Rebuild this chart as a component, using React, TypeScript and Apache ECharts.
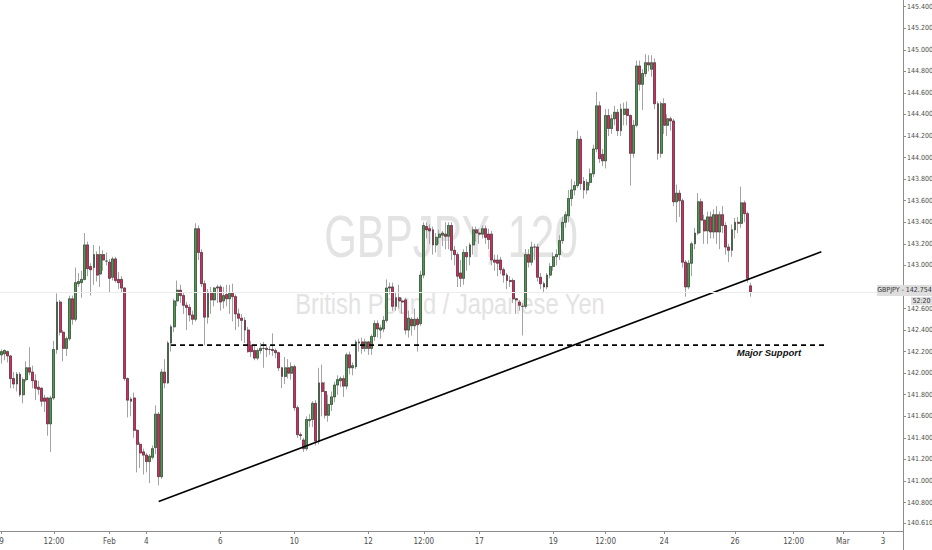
import React, { useEffect, useRef } from "react";
import * as echarts from "echarts";

// Each candle: [open, close, low, high] — GBPJPY 2-hour candles
const candlesLateJan: number[][] = [
  [142.17,142.20,142.09,142.22],[142.18,142.21,142.12,142.22],[142.20,142.16,142.10,142.21],[142.16,141.95,141.86,142.17],
  [141.95,141.90,141.86,142.01],[141.90,141.99,141.83,142.01],[141.99,141.80,141.78,142.01],[141.80,141.94,141.72,141.96],
  [141.94,142.05,141.92,142.11],[142.05,142.01,141.98,142.24],[142.01,141.93,141.86,142.07],[141.93,141.86,141.75,141.99],
  [141.87,141.85,141.80,141.93],[141.86,141.74,141.69,141.87],[141.77,141.74,141.64,141.80],[141.77,141.53,141.42,141.78],
  [141.53,141.77,141.27,141.79],[141.77,142.22,141.75,142.30],[142.22,142.66,142.18,142.74],[142.66,142.38,142.35,142.68],
  [142.38,142.23,142.11,142.40],[142.23,142.32,142.16,142.34],[142.32,142.69,142.30,142.72],[142.69,142.50,142.45,142.72],
  [142.50,142.84,142.48,142.98],[142.83,142.85,142.80,142.93],[142.84,142.87,142.70,142.95],[142.87,143.19,142.86,143.30],
  [143.19,142.97,142.90,143.22],[142.99,142.96,142.72,143.02],[142.98,143.10,142.82,143.19],[143.10,142.91,142.85,143.13],
  [142.92,143.10,142.80,143.18],[143.10,143.05,142.95,143.14],[143.04,143.04,143.00,143.12],[143.03,142.88,142.75,143.06],
  [142.89,143.06,142.86,143.08],[143.06,142.86,142.84,143.08],[142.87,142.84,142.78,142.94],[142.87,142.79,142.75,142.90],
  [142.79,141.95,141.93,142.80],[141.95,141.75,141.59,141.96],[141.76,141.74,141.60,141.78],[141.77,141.47,141.40,141.82],
  [141.47,141.34,141.08,141.48],[141.34,141.26,141.12,141.36],[141.27,141.24,141.06,141.30],[141.24,141.18,141.08,141.26],
  [141.18,141.23,140.98,141.25],[141.22,141.30,141.20,141.33],[141.31,141.62,141.25,141.70],[141.62,141.04,140.96,141.64],
  [141.04,142.01,141.02,142.04],[142.01,141.91,141.86,142.13],[141.91,142.28,141.90,142.30],[142.28,142.43,142.20,142.45],
  [142.43,142.67,142.38,142.69],[142.67,142.77,142.62,142.86],[142.77,142.72,142.65,142.82],[142.72,142.63,142.55,142.75],
  [142.63,142.61,142.40,142.66],[142.61,142.54,142.48,142.64],
];

const candlesEarlyFeb: number[][] = [
  [142.54,142.50,142.45,142.58],[142.50,143.34,142.48,143.39],[143.34,143.12,143.05,143.37],[143.12,142.83,142.80,143.15],
  [142.83,142.52,142.26,142.86],[142.52,142.75,142.46,142.78],[142.75,142.68,142.55,142.80],[142.68,142.79,142.62,142.80],
  [142.79,142.80,142.65,142.82],[142.80,142.66,142.58,142.82],[142.67,142.72,142.60,142.80],[142.73,142.69,142.62,142.82],
  [142.69,142.74,142.55,142.82],[142.74,142.71,142.48,142.83],[142.71,142.55,142.40,142.73],[142.55,142.51,142.43,142.60],
  [142.51,142.49,142.30,142.55],[142.49,142.40,142.28,142.52],[142.40,142.20,142.19,142.43],[142.26,142.20,142.15,142.30],
  [142.21,142.14,142.12,142.25],[142.14,142.21,142.12,142.23],[142.21,142.23,142.18,142.28],[142.23,142.23,142.05,142.29],
  [142.23,142.22,142.15,142.27],[142.22,142.22,142.17,142.25],[142.22,142.21,142.16,142.37],[142.21,142.19,142.14,142.23],
  [142.19,142.05,142.02,142.20],[142.05,141.97,141.86,142.06],[141.97,142.05,141.90,142.15],[142.05,142.00,141.95,142.13],
  [142.00,142.06,141.94,142.10],[142.06,141.68,141.65,142.08],[141.68,141.43,141.40,141.70],[141.43,141.42,141.38,141.45],
  [141.38,141.30,141.27,141.40],[141.30,141.57,141.28,141.60],[141.56,141.57,141.50,141.62],[141.57,141.72,141.50,141.74],
  [141.72,141.37,141.33,141.75],[141.37,141.91,141.34,142.05],[141.91,141.83,141.60,142.08],[141.83,141.61,141.58,141.92],
  [141.61,141.71,141.55,141.80],[141.71,141.78,141.65,141.83],[141.78,141.89,141.73,141.92],[141.89,141.94,141.80,141.98],
  [141.93,141.95,141.87,141.97],[141.95,141.88,141.78,141.98],[141.88,142.17,141.85,142.19],[142.17,142.05,141.99,142.20],
  [142.05,142.07,141.98,142.10],[142.06,142.29,142.04,142.31],[142.28,142.29,142.20,142.32],[142.29,142.23,142.18,142.33],
  [142.23,142.29,142.20,142.32],[142.29,142.23,142.17,142.30],[142.23,142.34,142.17,142.36],[142.34,142.46,142.30,142.49],
  [142.46,142.41,142.33,142.49],[142.40,142.42,142.32,142.45],[142.41,142.49,142.38,142.53],[142.49,142.79,142.47,142.87],
  [142.79,142.80,142.73,142.84],
];

const candlesMidFeb: number[][] = [
  [142.80,142.62,142.58,142.84],[142.62,142.70,142.58,142.75],[142.70,142.67,142.60,142.82],[142.67,142.66,142.55,142.70],
  [142.68,142.40,142.36,142.70],[142.40,142.51,142.33,142.58],[142.50,142.44,142.35,142.52],[142.44,142.50,142.40,142.60],
  [142.50,142.45,142.20,142.52],[142.46,142.91,142.44,142.95],[142.91,143.37,142.88,143.40],[143.36,143.33,143.25,143.40],
  [143.34,143.32,143.20,143.38],[143.33,143.19,143.10,143.36],[143.19,143.26,143.12,143.30],[143.26,143.29,143.20,143.33],
  [143.28,143.30,143.18,143.32],[143.29,143.27,143.15,143.40],[143.27,143.37,143.15,143.40],[143.37,143.14,143.05,143.40],
  [143.14,143.10,143.00,143.18],[143.10,142.90,142.80,143.12],[142.93,142.88,142.80,143.05],[142.88,143.12,142.82,143.15],
  [143.12,143.08,142.95,143.18],[143.08,143.19,143.00,143.21],[143.19,143.33,143.10,143.36],[143.33,143.30,143.22,143.36],
  [143.30,143.29,143.20,143.34],[143.29,143.34,143.25,143.37],[143.34,143.26,143.20,143.37],[143.29,143.24,143.15,143.34],
  [143.29,143.05,143.00,143.32],[143.05,143.03,142.95,143.10],[143.05,143.02,142.90,143.10],[143.05,142.96,142.92,143.08],
  [142.96,142.91,142.84,142.98],[142.91,142.86,142.78,142.93],[142.86,142.85,142.80,142.90],[142.86,142.69,142.65,142.88],
  [142.69,142.68,142.55,142.70],[142.66,142.63,142.58,142.68],[142.62,142.62,142.35,142.65],[142.62,143.10,142.60,143.15],
  [143.10,143.03,142.98,143.15],[143.03,143.17,143.00,143.22],[143.17,143.17,143.05,143.20],[143.17,142.89,142.85,143.20],
  [142.89,142.83,142.78,142.93],[142.83,142.80,142.75,142.85],[142.80,142.91,142.78,142.93],[142.91,142.99,142.88,143.02],
  [142.99,143.08,142.95,143.12],[143.08,143.10,143.00,143.15],[143.10,143.23,143.05,143.28],[143.23,143.40,143.20,143.45],
  [143.40,143.47,143.35,143.50],[143.46,143.62,143.40,143.70],[143.62,143.70,143.55,143.80],
];

const candlesLateFeb: number[][] = [
  [143.70,143.74,143.65,143.78],[143.74,144.17,143.72,144.25],[144.17,143.76,143.70,144.20],[143.78,143.70,143.62,143.82],
  [143.70,143.77,143.66,143.80],[143.77,143.85,143.74,143.90],[143.85,144.08,143.82,144.12],[144.08,144.48,144.05,144.61],
  [144.48,143.99,143.95,144.52],[144.03,143.97,143.92,144.08],[143.97,144.39,143.90,144.45],[144.39,144.27,144.20,144.45],
  [144.27,144.36,144.22,144.40],[144.36,144.42,144.30,144.48],[144.42,144.25,144.20,144.45],[144.25,144.45,144.20,144.50],
  [144.40,144.45,144.30,144.51],[144.45,144.39,144.30,144.52],[144.39,144.04,143.74,144.40],[144.04,144.30,144.00,144.35],
  [144.30,144.85,144.28,144.90],[144.85,144.68,144.62,144.90],[144.68,144.78,144.44,144.82],[144.78,144.88,144.75,144.96],
  [144.88,144.86,144.80,144.95],[144.82,144.88,144.75,144.95],[144.88,144.50,144.45,144.92],[144.50,144.04,143.98,144.52],
  [144.04,144.50,144.00,144.52],[144.50,144.30,144.22,144.55],[144.30,144.36,144.20,144.40],[144.36,144.34,144.25,144.38],
  [144.34,143.59,143.55,144.36],[143.59,143.67,143.40,143.75],[143.67,143.60,143.45,143.70],[143.60,143.03,142.98,143.62],
  [143.03,142.80,142.71,143.05],[142.80,143.02,142.78,143.05],[143.02,143.20,142.90,143.22],[143.20,143.30,143.15,143.35],
  [143.30,143.59,143.28,143.67],[143.59,143.42,143.30,143.62],[143.42,143.32,143.20,143.47],[143.32,143.45,143.20,143.50],
  [143.45,143.31,143.25,143.50],[143.31,143.47,143.25,143.52],[143.47,143.31,143.20,143.55],[143.31,143.47,143.15,143.50],
  [143.47,143.37,143.30,143.55],[143.37,143.17,143.10,143.40],[143.17,143.14,143.03,143.20],[143.14,143.33,143.08,143.38],
  [143.33,143.40,143.25,143.44],[143.40,143.39,143.30,143.45],[143.39,143.58,143.35,143.73],[143.58,143.48,143.40,143.60],
  [143.48,142.88,142.84,143.50],[142.81,142.754,142.71,142.84],
];

const candles = [...candlesLateJan, ...candlesEarlyFeb, ...candlesMidFeb, ...candlesLateFeb];

// time slots (2h bars) incl. empty future space on the right
const TOTAL_SLOTS = 293;
const dateLabels: [number, string][] = [
  [0, "9"], [17, "12:00"], [35, "Feb"], [47, "4"], [71, "6"], [95, "10"], [119, "12"], [137, "12:00"],
  [155, "17"], [179, "19"], [196, "12:00"], [215, "24"], [238, "26"], [257, "12:00"], [273, "Mar"], [286, "3"],
];
const priceTicks = [140.61, 140.8, 141.0, 141.2, 141.4, 141.6, 141.8, 142.0, 142.2, 142.4, 142.6, 142.8,
  143.0, 143.2, 143.4, 143.6, 143.8, 144.0, 144.2, 144.4, 144.6, 144.8, 145.0, 145.2, 145.4];
// 142.800 sits behind the last-price tag, so it gets a tick but no visible label
const hiddenPriceLabels = [142.8];
const priceMin = 140.536;
const priceMax = 145.462;
const lastPrice = 142.754;
const countdown = "52:20";
const supportLevel = 142.26;
const supportFrom = 55;
const supportTo = 268;
const supportLabelAt = 249;
const trendStart: [number, number] = [51, 140.809];
const trendEnd: [number, number] = [266, 143.126];

const UP = "#43a047";
const DOWN = "#e8225f";
const WICK = "#a3a3a3";
const AXIS = "#8c8c8c";
const FONT = "'Liberation Sans Narrow', 'DejaVu Sans Condensed', 'Liberation Sans', sans-serif";

export default function App() {
  const ref = useRef<HTMLDivElement>(null);
  useEffect(() => {
    document.body.style.margin = "0";
    const chart = echarts.init(ref.current!, null, { renderer: "svg" });
    const labelMap = new Map<number, string>(dateLabels);
    const categories = Array.from({ length: TOTAL_SLOTS }, (_, i) => String(i));
    const isLabel = (i: number) => labelMap.has(i);
    const trendData = categories.map((_, i) =>
      i === trendStart[0] ? trendStart[1] : i === trendEnd[0] ? trendEnd[1] : null);
    const supportData = categories.map((_, i) => (i === supportFrom || i === supportTo ? supportLevel : null));
    const shownPriceLabels = priceTicks.filter((v) => !hiddenPriceLabels.includes(v));

    chart.setOption({
      animation: false,
      backgroundColor: "#ffffff",
      grid: { left: 0, right: 29, top: 0, bottom: 19, containLabel: false, outerBoundsMode: "none" },
      xAxis: {
        type: "category",
        data: categories,
        boundaryGap: true,
        axisLine: { lineStyle: { color: AXIS, width: 1 } },
        axisTick: { show: true, interval: isLabel, alignWithLabel: true, length: 3, lineStyle: { color: AXIS } },
        axisLabel: {
          interval: isLabel,
          formatter: (v: string) => labelMap.get(Number(v)) ?? "",
          color: "#4d4d4d", fontSize: 8, fontFamily: FONT, margin: 6,
        },
        splitLine: { show: false },
      },
      yAxis: {
        type: "value",
        position: "right",
        min: priceMin,
        max: priceMax,
        axisLine: { show: true, lineStyle: { color: AXIS, width: 1 } },
        axisTick: { show: true, length: 3, customValues: priceTicks, lineStyle: { color: AXIS } },
        axisLabel: {
          customValues: shownPriceLabels,
          formatter: (v: number) => v.toFixed(3),
          color: "#4d4d4d", fontSize: 7, fontFamily: FONT, margin: 4,
        },
        splitLine: { show: false },
      },
      series: [
        {
          type: "candlestick",
          name: "wicks",
          silent: true,
          barWidth: 2.4,
          data: candles.map((c) => [c[0], c[1], c[2], c[3]]),
          itemStyle: { color: UP, color0: DOWN, borderColor: WICK, borderColor0: WICK, borderWidth: 1 },
          markLine: {
            silent: true,
            symbol: ["none", "none"],
            label: { show: false },
            lineStyle: { color: "#ececec", type: "solid", width: 1 },
            data: [{ yAxis: lastPrice }],
          },
        },
        {
          type: "candlestick",
          name: "GBPJPY",
          silent: true,
          barWidth: 2.4,
          data: candles.map((c) => [c[0], c[1], Math.min(c[0], c[1]), Math.max(c[0], c[1])]),
          itemStyle: { color: UP, color0: DOWN, borderColor: "#2e2e2e", borderColor0: "#2e2e2e", borderWidth: 0.55 },
        },
        {
          type: "line",
          name: "trend",
          silent: true,
          data: trendData,
          connectNulls: true,
          showSymbol: false,
          symbol: "none",
          lineStyle: { color: "#000000", width: 1.6 },
        },
        {
          type: "line",
          name: "support",
          silent: true,
          data: supportData,
          connectNulls: true,
          showSymbol: false,
          symbol: "none",
          lineStyle: { color: "#000000", width: 1.6, type: [5, 4] },
          markPoint: {
            silent: true,
            symbol: "circle",
            symbolSize: 0.1,
            itemStyle: { color: "transparent" },
            label: {
              show: true, position: "bottom", distance: 2, formatter: "Major Support",
              color: "#111111", fontSize: 9.5, fontWeight: "bold", fontStyle: "italic",
              fontFamily: "'Liberation Sans', sans-serif",
            },
            data: [{ coord: [supportLabelAt, supportLevel] }],
          },
        },
      ],
    });

    const yLast = chart.convertToPixel({ yAxisIndex: 0 }, lastPrice) as number;
    chart.setOption({
      graphic: [
        {
          type: "text", z: 0, silent: true, x: 451, y: 236, scaleX: 0.7,
          style: { text: "GBPJPY, 120", fontSize: 60, fontFamily: "'Liberation Sans', sans-serif", fill: "#e3e3e3", align: "center", verticalAlign: "middle" },
        },
        {
          type: "text", z: 0, silent: true, x: 450, y: 304, scaleX: 0.79,
          style: { text: "British Pound / Japanese Yen", fontSize: 30, fontFamily: "'Liberation Sans', sans-serif", fill: "#e3e3e3", align: "center", verticalAlign: "middle" },
        },
        { type: "line", z: 50, silent: true, shape: { x1: 903.5, y1: 531, x2: 903.5, y2: 550 }, style: { stroke: AXIS, lineWidth: 1 } },
        { type: "rect", z: 100, silent: true, shape: { x: 877, y: yLast - 7, width: 55, height: 11 }, style: { fill: "#dedede" } },
        {
          type: "text", z: 101, silent: true, x: 904.5, y: yLast - 1.5,
          style: { text: `GBPJPY - ${lastPrice.toFixed(3)}`, fontSize: 7, fontFamily: FONT, fill: "#333333", align: "center", verticalAlign: "middle" },
        },
        { type: "rect", z: 100, silent: true, shape: { x: 911, y: yLast + 5, width: 21, height: 8 }, style: { fill: "#dedede" } },
        {
          type: "text", z: 101, silent: true, x: 921.5, y: yLast + 9,
          style: { text: countdown, fontSize: 7, fontFamily: FONT, fill: "#333333", align: "center", verticalAlign: "middle" },
        },
      ],
    });
    return () => chart.dispose();
  }, []);
  return <div ref={ref} style={{ width: 932, height: 550 }} />;
}
